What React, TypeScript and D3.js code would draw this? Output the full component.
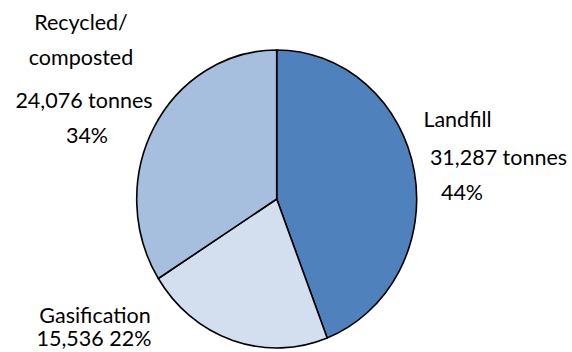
import React from "react";
import * as d3 from "d3";

const categories = ["Landfill", "Gasification", "Recycled/composted"];
const tonnes = [31287, 15536, 24076];
const percents = ["44%", "22%", "34%"];
const colors = ["#4F81BD", "#D3DFEE", "#A7BFDE"];

const W = 572;
const H = 352;
const cx = 276.7;
const cy = 199;
const rx = 140;
const ry = 149;

export default function App() {
  const pie = d3.pie<number>().sort(null).value((d) => d);
  const arcs = pie(tonnes);
  const arc = d3.arc<d3.PieArcDatum<number>>().innerRadius(0).outerRadius(rx);
  const fmt = d3.format(",");
  const font = "Lato, 'Open Sans', sans-serif";
  const fs = 21.5;

  const labelLines: { text: string; x: number; y: number }[] = [
    { text: "Landfill", x: 457.5, y: 127 },
    { text: `${fmt(tonnes[0])} tonnes`, x: 498.5, y: 165 },
    { text: percents[0], x: 462, y: 200 },
    { text: "Gasification", x: 95, y: 323 },
    { text: `${fmt(tonnes[1])} ${percents[1]}`, x: 94, y: 346 },
    { text: "Recycled/", x: 81, y: 30 },
    { text: "composted", x: 81, y: 65 },
    { text: `${fmt(tonnes[2])} tonnes`, x: 84, y: 108 },
    { text: percents[2], x: 87, y: 143 },
  ];

  return (
    <svg
      width={W}
      height={H}
      style={{ position: "absolute", left: 0, top: 0, background: "#fff" }}
    >
      <g transform={`translate(${cx},${cy}) scale(1,${ry / rx})`}>
        {arcs.map((a, i) => (
          <path
            key={categories[i]}
            d={arc(a) || ""}
            fill={colors[i]}
            stroke="#000"
            strokeWidth={1.6}
            vectorEffect="non-scaling-stroke"
            strokeLinejoin="round"
          />
        ))}
      </g>
      {labelLines.map((l, i) => (
        <text
          key={i}
          x={l.x}
          y={l.y}
          textAnchor="middle"
          fontFamily={font}
          fontSize={fs}
          fill="#000"
        >
          {l.text}
        </text>
      ))}
    </svg>
  );
}
